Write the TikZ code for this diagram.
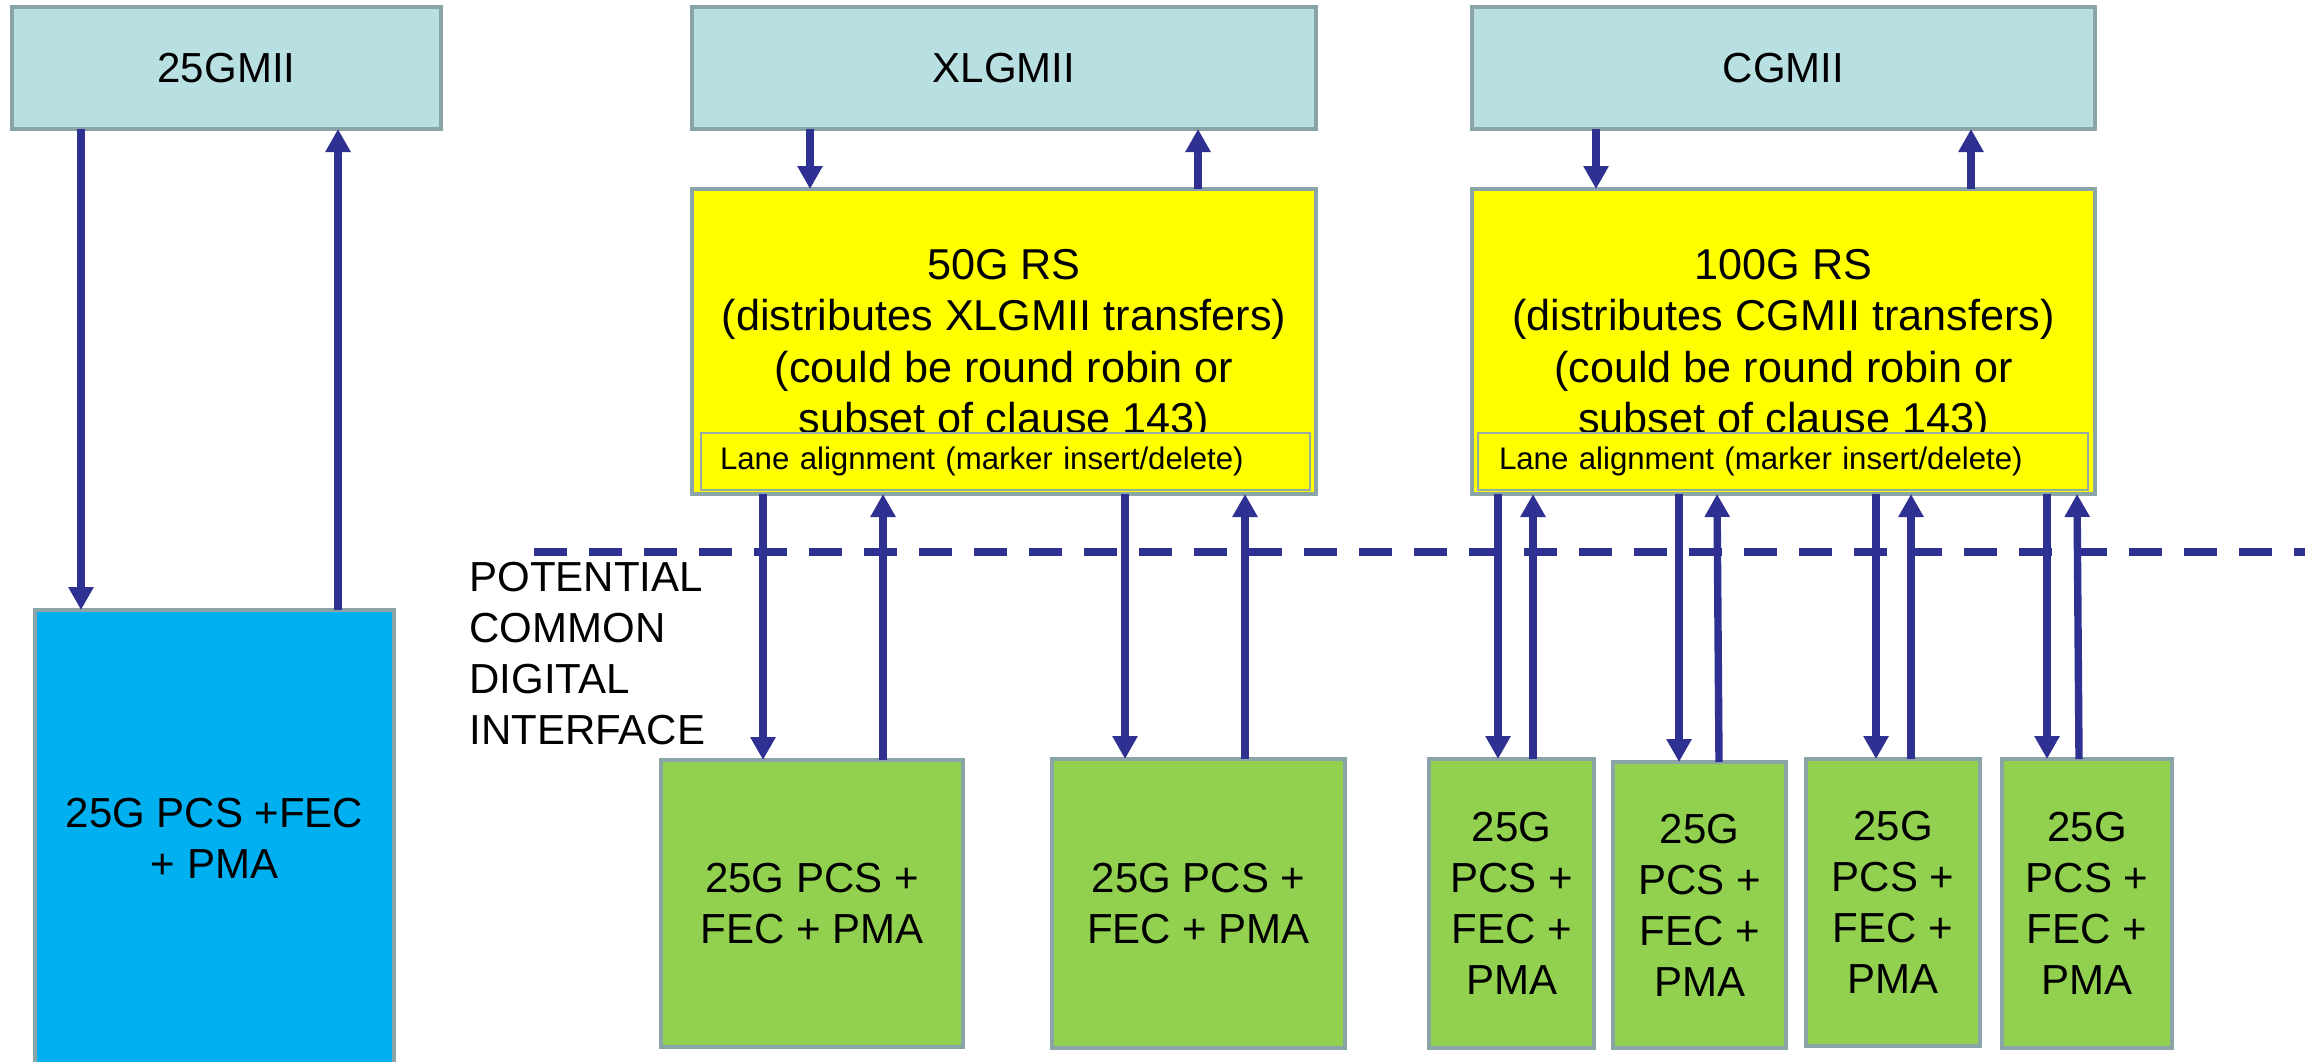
\documentclass[tikz,border=0pt]{standalone}
\usepackage{fontspec}
\setmainfont{Liberation Sans}
\usetikzlibrary{arrows.meta,calc}
\definecolor{bordc}{RGB}{139,164,167}
\definecolor{miic}{RGB}{184,223,226}
\definecolor{rsyel}{RGB}{255,255,0}
\definecolor{pcsgreen}{RGB}{146,208,80}
\definecolor{pcsblue}{RGB}{0,176,240}
\definecolor{navyarr}{RGB}{46,49,146}
\definecolor{laneb}{RGB}{150,172,160}
\newcommand\dgbig{\fontsize{21pt}{25.5pt}\selectfont}
\newcommand\dgrs{\fontsize{21.6pt}{25.75pt}\selectfont}
\newcommand\dgsmall{\fontsize{15.6pt}{18pt}\selectfont}
\begin{document}
\begin{tikzpicture}[x=0.5pt,y=-0.5pt,
  box/.style={draw=bordc,line width=2.25pt,inner sep=0pt,outer sep=0pt,align=center,font=\dgbig},
  miibox/.style={box,fill=miic,minimum height=61pt},
  rsbox/.style={box,fill=rsyel,minimum height=152.5pt},
  rstext/.style={font=\dgrs,align=center,inner sep=0pt},
  lanebox/.style={draw=laneb,line width=1pt,fill=rsyel,inner ysep=0pt,outer sep=0pt,minimum height=28.5pt,align=left,font=\dgsmall},
  pcsbox/.style={box,fill=pcsgreen},
  arr/.style={draw=navyarr,line width=3.7pt,-{Triangle[length=11.5pt,width=12pt]}},
  cdi/.style={draw=navyarr,line width=3.8pt,dash pattern=on 16.5pt off 11pt},
  lbl/.style={font=\dgbig,align=left,inner sep=0pt}
]
\useasboundingbox (0,0) rectangle (2305,1061);

% MII boxes
\node[miibox,minimum width=214.5pt] (mii25) at (226.5,68) {25GMII};
\node[miibox,minimum width=312pt] (xlgmii) at (1004,68) {XLGMII};
\node[miibox,minimum width=311.5pt] (cgmii) at (1783.5,68) {CGMII};

% RS boxes
\node[rsbox,minimum width=312pt] (rs50) at (1004,341.5) {};
\node[rstext] (rs50txt) at (1004,346) {50G RS\\(distributes XLGMII transfers)\\(could be round robin or\\subset of clause 143)};
\node[lanebox,minimum width=304.5pt,text width=285.5pt,inner xsep=9.5pt] (lane50) at (1005.5,461.5) {Lane alignment (marker insert/delete)};

\node[rsbox,minimum width=311.5pt] (rs100) at (1783.5,341.5) {};
\node[rstext] (rs100txt) at (1783.5,346) {100G RS\\(distributes CGMII transfers)\\(could be round robin or\\subset of clause 143)};
\node[lanebox,minimum width=305pt,text width=284pt,inner xsep=10.5pt] (lane100) at (1783,461.5) {Lane alignment (marker insert/delete)};

% PCS boxes
\node[box,fill=pcsblue,minimum width=179.5pt,minimum height=228pt] (pcs25) at (214.5,838) {25G PCS +FEC\\+ PMA};
\node[pcsbox,minimum width=151pt,minimum height=143.5pt] (g50a) at (812,903.5) {25G PCS +\\FEC + PMA};
\node[pcsbox,minimum width=146.5pt,minimum height=144.5pt] (g50b) at (1198.5,903.5) {25G PCS +\\FEC + PMA};
\node[pcsbox,minimum width=82.5pt,minimum height=144.5pt] (g100a) at (1511.5,903.5) {25G\\PCS +\\FEC +\\PMA};
\node[pcsbox,minimum width=86.5pt,minimum height=143pt] (g100b) at (1699.5,905) {25G\\PCS +\\FEC +\\PMA};
\node[pcsbox,minimum width=87pt,minimum height=143.5pt] (g100c) at (1893,902.5) {25G\\PCS +\\FEC +\\PMA};
\node[pcsbox,minimum width=85pt,minimum height=144.5pt] (g100d) at (2087,903.5) {25G\\PCS +\\FEC +\\PMA};

% label
\node[lbl,anchor=west] (pcdi) at (469,654) {POTENTIAL\\COMMON\\DIGITAL\\INTERFACE};

% dashed interface line
\coordinate (dl) at (534,552);
\coordinate (dr) at (2310,552);
\draw[cdi] (dl) -- (dr);

% 25G arrows
\draw[arr] ([xshift=34.5pt]mii25.south west) -- ([xshift=23pt]pcs25.north west);
\draw[arr] ([xshift=151.5pt]pcs25.north west) -- ([xshift=163pt]mii25.south west);

% XLGMII <-> 50G RS
\draw[arr] ([xshift=59pt]xlgmii.south west) -- ([xshift=59pt]rs50.north west);
\draw[arr] ([xshift=253pt]rs50.north west) -- ([xshift=253pt]xlgmii.south west);

% CGMII <-> 100G RS
\draw[arr] ([xshift=62pt]cgmii.south west) -- ([xshift=62pt]rs100.north west);
\draw[arr] ([xshift=249.5pt]rs100.north west) -- ([xshift=249.5pt]cgmii.south west);

% 50G RS lanes
\draw[arr] ([xshift=35.5pt]rs50.south west) -- ([xshift=51pt]g50a.north west);
\draw[arr] ([xshift=111pt]g50a.north west) -- ([xshift=95.5pt]rs50.south west);
\draw[arr] ([xshift=216.5pt]rs50.south west) -- ([xshift=36.5pt]g50b.north west);
\draw[arr] ([xshift=96.5pt]g50b.north west) -- ([xshift=276.5pt]rs50.south west);

% 100G RS lanes
\draw[arr] ([xshift=13pt]rs100.south west) -- ([xshift=34.5pt]g100a.north west);
\draw[arr] ([xshift=52pt]g100a.north west) -- ([xshift=30.5pt]rs100.south west);
\draw[arr] ([xshift=103.5pt]rs100.south west) -- ([xshift=33pt]g100b.north west);
\draw[arr] ([xshift=53pt]g100b.north west) -- ([xshift=122.5pt]rs100.south west);
\draw[arr] ([xshift=202pt]rs100.south west) -- ([xshift=35pt]g100c.north west);
\draw[arr] ([xshift=52.5pt]g100c.north west) -- ([xshift=219.5pt]rs100.south west);
\draw[arr] ([xshift=287.5pt]rs100.south west) -- ([xshift=22.5pt]g100d.north west);
\draw[arr] ([xshift=38.5pt]g100d.north west) -- ([xshift=302.5pt]rs100.south west);
\end{tikzpicture}
\end{document}
